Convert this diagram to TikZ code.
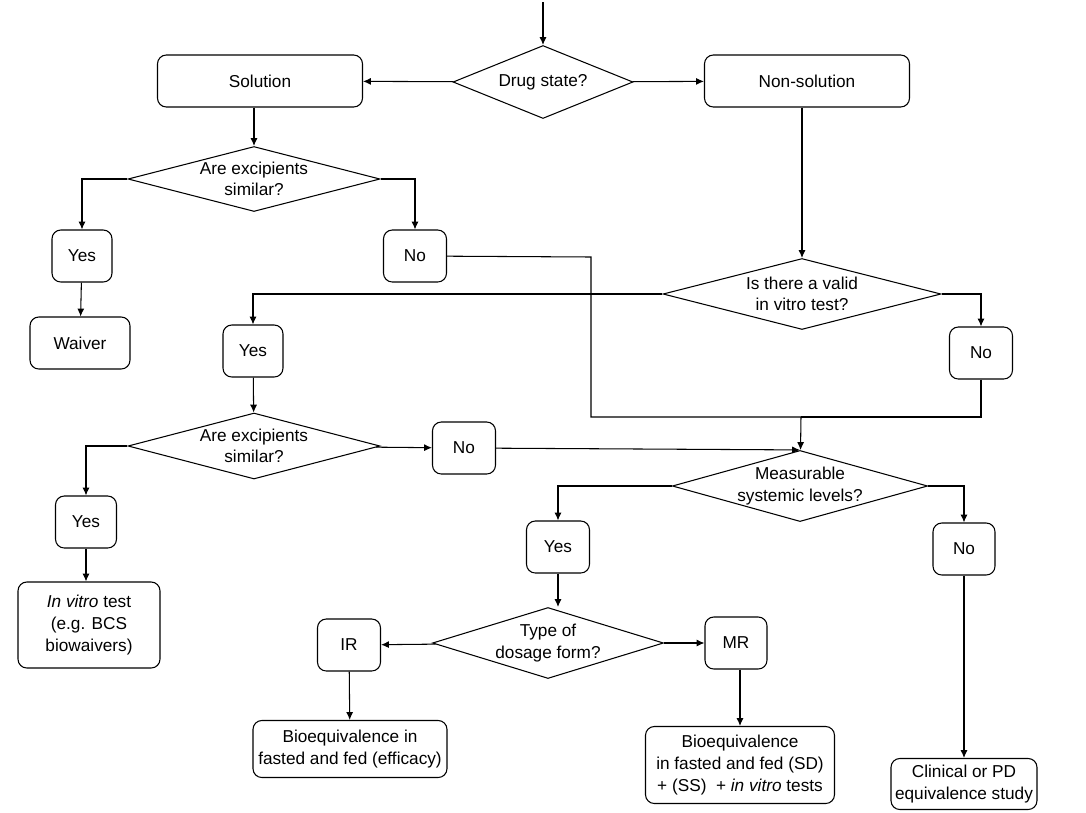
\documentclass[tikz,border=0pt]{standalone}
\usepackage{fontspec}
\setmainfont{Liberation Sans}
\usetikzlibrary{shapes.geometric, arrows, arrows.meta}
\tikzstyle{process} = [rectangle, rounded corners=5pt,
minimum height=1.04cm,
inner sep=0pt,
align=center,
draw=black]
\tikzstyle{answer} = [process,
minimum width=1.26cm]
\tikzstyle{decision} = [diamond,
inner sep=0pt,
align=center,
draw=black]
\tikzstyle{arrow} = [-{Latex[length=4.5pt,width=4pt]}]

\begin{document}
\begin{tikzpicture}[x=0.02cm, y=-0.02cm, line width=0.6pt,
font=\fontsize{9.8}{12.3}\selectfont]
	\useasboundingbox (0,0) rectangle (1086,812);

	\coordinate (top) at (543,2);
	\node (drug) [decision, minimum width=3.6cm, minimum height=1.46cm, aspect=2.48] at (543,82) {Drug state?};
	\node (sol) [process, minimum width=4.1cm] at (260,81) {Solution};
	\node (nonsol) [process, minimum width=4.1cm] at (807,81) {Non-solution};

	% solution branch
	\node (exc1) [decision, minimum width=5.04cm, minimum height=1.3cm, aspect=3.88] at (254,179) {Are excipients\\similar?};
	\node (yes1) [answer, minimum width=1.2cm] at (82,256) {Yes};
	\node (no1) [answer] at (415,256) {No};
	\node (waiver) [process, minimum width=2cm] at (80,343) {Waiver};

	% non-solution branch
	\node (valid) [decision, minimum width=5.56cm, minimum height=1.42cm, aspect=3.92] at (802,294) {Is there a valid\\in vitro test?};
	\node (yes2) [answer, minimum width=1.2cm] at (253,351) {Yes};
	\node (no2) [answer] at (981,353) {No};
	\node (exc2) [decision, minimum width=5.04cm, minimum height=1.32cm, aspect=3.82] at (254,446) {Are excipients\\similar?};
	\node (yes3) [answer, minimum width=1.22cm] at (86,522) {Yes};
	\node (no3) [answer] at (464,448) {No};
	\node (invitro) [process, minimum width=2.84cm, minimum height=1.72cm] at (89,625) {\textit{In vitro} test\\(e.g. BCS\\biowaivers)};

	\node (meas) [decision, minimum width=5.02cm, minimum height=1.4cm, aspect=3.59, inner xsep=-1.5pt] at (800,486) {Measurable\\systemic levels?};
	\node (yes4) [answer] at (558,547) {Yes};
	\node (no4) [answer, minimum width=1.24cm] at (964,549) {No};
	\node (type) [decision, minimum width=4.62cm, minimum height=1.42cm, aspect=3.25] at (548,643) {Type of\\dosage form?};
	\node (ir) [answer] at (349,645) {IR};
	\node (mr) [answer, minimum width=1.24cm] at (736,643) {MR};
	\node (be1) [process, minimum width=3.88cm, minimum height=1.14cm] at (350,749) {Bioequivalence in\\fasted and fed (efficacy)};
	\node (be2) [process, minimum width=3.78cm, minimum height=1.54cm] at (740,765) {Bioequivalence\\in fasted and fed (SD)\\+ (SS) \ + \textit{in vitro} tests};
	\node (clin) [process, minimum width=2.92cm, minimum height=1.02cm] at (964,784) {Clinical or PD\\equivalence study};

	\coordinate (bend1) at (591,257);
	\coordinate (merge) at (801,417);

	\draw [arrow] (top) -- (drug);
	\draw [arrow] (drug) -- (sol);
	\draw [arrow] (drug) -- (nonsol);
	\draw [arrow] (sol.south -| exc1.north) -- (exc1);
	\draw [arrow] (exc1) -| (yes1);
	\draw [arrow] (exc1) -| (no1);
	\draw [arrow] (yes1) -- (waiver);
	\draw (no1) -- (bend1) |- (merge);
	\draw [arrow] (nonsol.south -| valid.north) -- (valid);
	\draw [arrow] (valid) -| (yes2);
	\draw [arrow] (valid) -| (no2);
	\draw (no2) |- (merge);
	\draw [arrow] (merge) -- (meas);
	\draw [arrow] (yes2) -- (exc2);
	\draw [arrow] (exc2) -| (yes3);
	\draw [arrow] (exc2) -- (no3);
	\draw [arrow] (yes3) -- (yes3 |- invitro.north);
	\draw [arrow] (no3) -- (meas.north);
	\draw [arrow] (meas) -| (yes4);
	\draw [arrow] (meas) -| (no4);
	\draw [arrow] (yes4) -- (yes4 |- type.north);
	\draw [arrow] (type) -- (ir);
	\draw [arrow] (type) -- (mr);
	\draw [arrow] (ir) -- (be1);
	\draw [arrow] (mr.south -| be2.north) -- (be2);
	\draw [arrow] (no4) -- (clin);

\end{tikzpicture}
\end{document}
